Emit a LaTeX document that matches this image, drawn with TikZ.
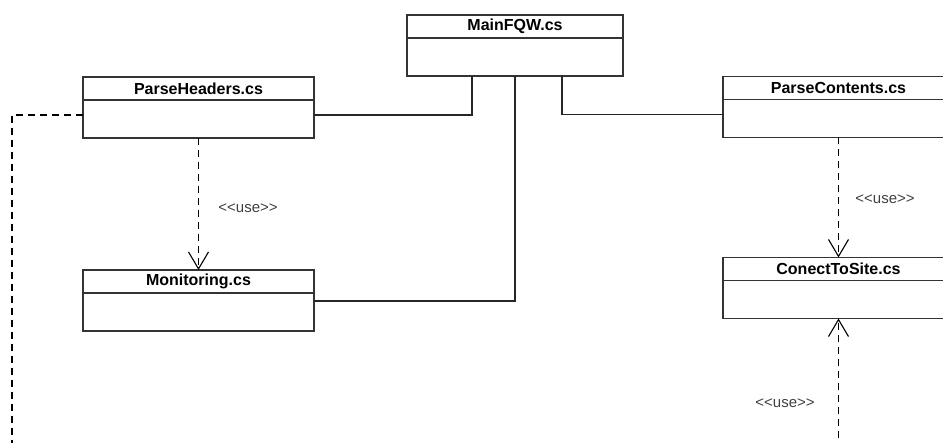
\documentclass[tikz,border=0pt]{standalone}
\usepackage{fontspec}
\setmainfont{Liberation Sans}
\usetikzlibrary{positioning,arrows.meta}

% stereotipo senza legature << >>
\newcommand{\uselbl}{<\kern0pt<use>\kern0pt>}

\tikzset{
  classhead/.style={draw=black!80, line width=1.2pt, minimum width=231pt,
    minimum height=23pt, inner sep=0pt, outer sep=0pt,
    font=\fontsize{16}{18}\selectfont\bfseries},
  classbody/.style={draw=black!80, line width=1.2pt, minimum width=231pt,
    minimum height=38pt, inner sep=0pt, outer sep=0pt},
  assoc/.style={draw=black!85, line width=1.1pt},
  usedep/.style={draw=black, line width=1.1pt, dash pattern=on 7pt off 5pt,
    -{Straight Barb[length=17pt,width=20pt]}},
  uselabel/.style={text=black!75, font=\fontsize{15}{17}\selectfont}
}

\begin{document}
\begin{tikzpicture}[x=1pt,y=-1pt]
\useasboundingbox (0,0) rectangle (943,443);
\clip (0,0) rectangle (943,443);

% Classi
\node[classhead, minimum width=216pt] (mainH) at (515,26.5) {MainFQW.cs};
\node[classbody, minimum width=216pt, below=0pt of mainH] (main) {};

\node[classhead] (parseHH) at (198.5,88.5) {ParseHeaders.cs};
\node[classbody, below=0pt of parseHH] (parseH) {};

\node[classhead] (parseCH) at (838.5,88) {ParseContents.cs};
\node[classbody, below=0pt of parseCH] (parseC) {};

\node[classhead] (monitorH) at (198.5,281.5) {Monitoring.cs};
\node[classbody, below=0pt of monitorH] (monitor) {};

\node[classhead] (conectH) at (838.5,269) {ConectToSite.cs};
\node[classbody, below=0pt of conectH] (conect) {};

% Associazioni da MainFQW
\draw[assoc] ([xshift=-43pt]main.south) |- ([yshift=4pt]parseH.east);
\draw[assoc] (main.south) |- ([yshift=11pt]monitor.east);
\draw[assoc] ([xshift=47pt]main.south) |- ([yshift=4pt]parseC.west);

% Dipendenze <<use>>
\coordinate (leftEnd) at (12,450);
\coordinate (conectEnd) at (838.5,450);
\draw[usedep] (parseH.south) -- (monitorH.north);
\draw[usedep] (parseC.south) -- (conectH.north);
\draw[usedep] (conectEnd) -- (conect.south);
\draw[usedep, -] ([yshift=4pt]parseH.west) -| (leftEnd);

% Etichette
\node[uselabel] (use1) at (248,208) {\uselbl};
\node[uselabel] (use2) at (885,199) {\uselbl};
\node[uselabel] (use3) at (785,403) {\uselbl};
\end{tikzpicture}
\end{document}
